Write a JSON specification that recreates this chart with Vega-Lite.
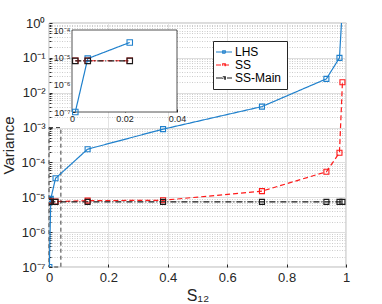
{
  "$schema": "https://vega.github.io/schema/vega-lite/v6.json",
  "width": 297,
  "height": 244,
  "autosize": {"type": "none"},
  "padding": {"left": 49, "top": 23, "right": 36, "bottom": 37},
  "config": {
    "font": "Liberation Sans",
    "view": {"stroke": "#262626", "strokeWidth": 0.8},
    "axis": {"labelColor": "#262626", "titleColor": "#262626", "tickColor": "#262626", "domain": false, "labelFontWeight": "normal", "titleFontWeight": "normal"}
  },
  "datasets": {
    "series": [
      {"series": "LHS", "x": 0.00125, "v": 1e-7},
      {"series": "LHS", "x": 0.006, "v": 9e-6},
      {"series": "LHS", "x": 0.022, "v": 3.5e-5},
      {"series": "LHS", "x": 0.13, "v": 2.4e-4},
      {"series": "LHS", "x": 0.384, "v": 9e-4},
      {"series": "LHS", "x": 0.717, "v": 4e-3},
      {"series": "LHS", "x": 0.934, "v": 2.5e-2},
      {"series": "LHS", "x": 0.978, "v": 0.1},
      {"series": "LHS", "x": 0.988, "v": 3},
      {"series": "SS", "x": 0.00125, "v": 7.5e-6},
      {"series": "SS", "x": 0.006, "v": 7.5e-6},
      {"series": "SS", "x": 0.022, "v": 7.5e-6},
      {"series": "SS", "x": 0.13, "v": 8e-6},
      {"series": "SS", "x": 0.384, "v": 8.2e-6},
      {"series": "SS", "x": 0.717, "v": 1.5e-5},
      {"series": "SS", "x": 0.934, "v": 5.4e-5},
      {"series": "SS", "x": 0.978, "v": 1.9e-4},
      {"series": "SS", "x": 0.988, "v": 2e-2},
      {"series": "SS-Main", "x": 0.00125, "v": 7.4e-6},
      {"series": "SS-Main", "x": 0.006, "v": 7.4e-6},
      {"series": "SS-Main", "x": 0.022, "v": 7.4e-6},
      {"series": "SS-Main", "x": 0.13, "v": 7.4e-6},
      {"series": "SS-Main", "x": 0.384, "v": 7.4e-6},
      {"series": "SS-Main", "x": 0.717, "v": 7.4e-6},
      {"series": "SS-Main", "x": 0.934, "v": 7.4e-6},
      {"series": "SS-Main", "x": 0.978, "v": 7.4e-6},
      {"series": "SS-Main", "x": 0.988, "v": 7.4e-6}
    ],
    "zoombox": [{"x": 0, "xe": 0.04, "v": 1e-7, "ve": 1e-3}],
    "insetbox": [{"x": 0, "xe": 0.04, "v": 1e-7, "ve": 1e-4}]
  },
  "layer": [
    {
      "layer": [
        {
          "data": {"name": "zoombox"},
          "mark": {"type": "rect", "fill": null, "stroke": "#262626", "strokeWidth": 0.9, "strokeDash": [4, 3]},
          "encoding": {
            "x": {"field": "x", "type": "quantitative"},
            "x2": {"field": "xe"},
            "y": {"field": "v", "type": "quantitative"},
            "y2": {"field": "ve"}
          }
        },
        {
          "data": {"name": "series"},
          "mark": {"type": "line", "strokeWidth": 1.2, "clip": true},
          "encoding": {
            "x": {"field": "x", "type": "quantitative"},
            "y": {"field": "v", "type": "quantitative"},
            "color": {
              "field": "series", "type": "nominal",
              "scale": {"domain": ["LHS", "SS", "SS-Main"], "range": ["#1f80cc", "#ff1a1a", "#1a1a1a"]},
              "legend": {
                "title": null, "orient": "none", "legendX": 164, "legendY": 18,
                "fillColor": "white", "strokeColor": "#262626", "padding": 5,
                "symbolType": "M-1.6,0H1.6M-0.25,-0.25H0.25V0.25H-0.25Z", "symbolSize": 100,
                "symbolStrokeWidth": 1.2, "symbolFillColor": "transparent",
                "labelFontSize": 12, "labelColor": "black", "labelOffset": 5, "rowPadding": 1
              }
            },
            "strokeDash": {
              "field": "series", "type": "nominal",
              "scale": {"domain": ["LHS", "SS", "SS-Main"], "range": [[1, 0], [5, 3], [6, 2, 1, 2]]},
              "legend": {"title": null}
            }
          }
        },
        {
          "data": {"name": "series"},
          "mark": {"type": "point", "shape": "square", "filled": false, "size": 25, "strokeWidth": 1.1, "opacity": 1, "clip": true},
          "encoding": {
            "x": {"field": "x", "type": "quantitative"},
            "y": {"field": "v", "type": "quantitative"},
            "color": {"field": "series", "type": "nominal"}
          }
        }
      ],
      "encoding": {
        "x": {
          "field": "x", "type": "quantitative", "title": "S₁₂",
          "scale": {"domain": [0, 1], "nice": false},
          "axis": {
            "values": [0, 0.2, 0.4, 0.6, 0.8, 1], "format": "~g",
            "labelFontSize": 13, "titleFontSize": 16, "tickSize": -3, "labelPadding": 7,
            "gridColor": "#e3e3e3", "titlePadding": 3, "labelFlush": false
          }
        },
        "y": {
          "field": "v", "type": "quantitative", "title": "Variance",
          "scale": {"type": "log", "domain": [1e-7, 1], "nice": false},
          "axis": {
            "values": [1e-7, 2e-7, 3e-7, 4e-7, 5e-7, 6e-7, 7e-7, 8e-7, 9e-7,
                       1e-6, 2e-6, 3e-6, 4e-6, 5e-6, 6e-6, 7e-6, 8e-6, 9e-6,
                       1e-5, 2e-5, 3e-5, 4e-5, 5e-5, 6e-5, 7e-5, 8e-5, 9e-5,
                       1e-4, 2e-4, 3e-4, 4e-4, 5e-4, 6e-4, 7e-4, 8e-4, 9e-4,
                       1e-3, 2e-3, 3e-3, 4e-3, 5e-3, 6e-3, 7e-3, 8e-3, 9e-3,
                       1e-2, 2e-2, 3e-2, 4e-2, 5e-2, 6e-2, 7e-2, 8e-2, 9e-2,
                       1e-1, 2e-1, 3e-1, 4e-1, 5e-1, 6e-1, 7e-1, 8e-1, 9e-1, 1],
            "labelExpr": "abs(log(datum.value)/LN10 - round(log(datum.value)/LN10)) < 0.001 ? '10' + (datum.value < 0.5 ? '⁻' : '') + substring('⁰¹²³⁴⁵⁶⁷', abs(round(log(datum.value)/LN10)), abs(round(log(datum.value)/LN10)) + 1) : ''",
            "labelFontSize": 13, "titleFontSize": 15, "labelPadding": 7, "titlePadding": 4,
            "tickSize": {"condition": {"test": "abs(log(datum.value)/LN10 - round(log(datum.value)/LN10)) < 0.001", "value": -3}, "value": -2},
            "gridColor": {"condition": {"test": "abs(log(datum.value)/LN10 - round(log(datum.value)/LN10)) < 0.001", "value": "#dedede"}, "value": "#cccccc"},
            "gridDash": {"condition": {"test": "abs(log(datum.value)/LN10 - round(log(datum.value)/LN10)) < 0.001", "value": []}, "value": [1, 1.5]},
            "labelFlush": false, "labelOverlap": false
          }
        }
      }
    },
    {
      "layer": [
        {
          "data": {"name": "insetbox"},
          "mark": {"type": "rect", "fill": "white", "stroke": "#262626", "strokeWidth": 0.8},
          "encoding": {
            "x": {"field": "x", "type": "quantitative"},
            "x2": {"field": "xe"},
            "y": {"field": "v", "type": "quantitative"},
            "y2": {"field": "ve"}
          }
        },
        {
          "data": {"name": "series"},
          "transform": [{"filter": "datum.x <= 0.04"}],
          "mark": {"type": "line", "strokeWidth": 1.2},
          "encoding": {
            "x": {"field": "x", "type": "quantitative"},
            "y": {"field": "v", "type": "quantitative"},
            "color": {"field": "series", "type": "nominal"},
            "strokeDash": {"field": "series", "type": "nominal"}
          }
        },
        {
          "data": {"name": "series"},
          "transform": [{"filter": "datum.x <= 0.04"}],
          "mark": {"type": "point", "shape": "square", "filled": false, "size": 30, "strokeWidth": 1.1, "opacity": 1},
          "encoding": {
            "x": {"field": "x", "type": "quantitative"},
            "y": {"field": "v", "type": "quantitative"},
            "color": {"field": "series", "type": "nominal"}
          }
        }
      ],
      "encoding": {
        "x": {
          "field": "x", "type": "quantitative", "title": null,
          "scale": {"domain": [0, 0.04], "range": [23, 128], "nice": false},
          "axis": {
            "orient": "bottom", "offset": -155, "values": [0, 0.02, 0.04], "format": "~g",
            "grid": false, "labelFontSize": 9, "tickSize": -3, "labelPadding": 5, "labelFlush": false
          }
        },
        "y": {
          "field": "v", "type": "quantitative", "title": null,
          "scale": {"type": "log", "domain": [1e-7, 1e-4], "range": [89, 7], "nice": false},
          "axis": {
            "orient": "left", "offset": -23, "values": [1e-7, 1e-6, 1e-5, 1e-4],
            "labelExpr": "'10⁻' + substring('⁰¹²³⁴⁵⁶⁷', abs(round(log(datum.value)/LN10)), abs(round(log(datum.value)/LN10)) + 1)",
            "grid": false, "labelFontSize": 9, "tickSize": -3, "labelPadding": 5, "labelFlush": false
          }
        }
      }
    }
  ],
  "resolve": {"scale": {"x": "independent", "y": "independent"}, "axis": {"x": "independent", "y": "independent"}}
}
